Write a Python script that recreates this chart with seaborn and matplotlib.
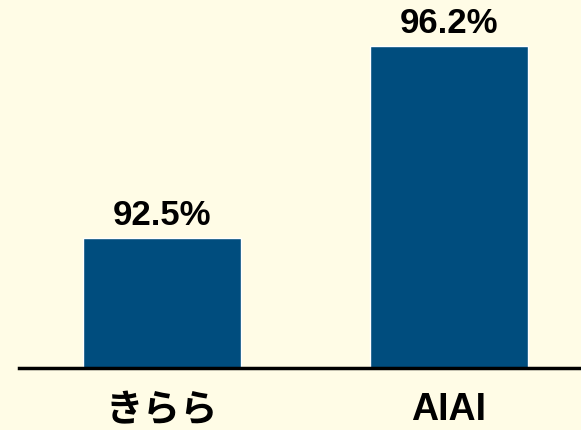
import matplotlib.pyplot as plt
import seaborn as sns
import pandas as pd

# datos
nombres = ["きらら", "AIAI"]
valores = [92.5, 96.2]
etiquetas = ["92.5%", "96.2%"]

fondo = "#FFFCE6"
azul = "#004D7E"

sns.set_style("white")
plt.rcParams["font.family"] = ["Liberation Sans", "Noto Sans CJK JP", "DejaVu Sans"]

df = pd.DataFrame({"nombre": nombres, "valor": valores})

fig = plt.figure(figsize=(5.81, 4.31), dpi=100, facecolor=fondo)
ax = fig.add_axes([19 / 581, 62.5 / 431, 562 / 581, 368.5 / 431])
ax.set_facecolor(fondo)

sns.barplot(data=df, x="nombre", y="valor", color=azul, width=0.55,
            saturation=1, ax=ax)

ax.set_ylim(90, 97.107)
ax.set_xlim(-0.5, -0.5 + 562 / 286.5)

ax.bar_label(ax.containers[0], labels=etiquetas, padding=5,
             fontsize=25, fontweight="bold", color="black")

for s in ["top", "right", "left"]:
    ax.spines[s].set_visible(False)
ax.spines["bottom"].set_linewidth(2.5)
ax.spines["bottom"].set_color("black")

ax.set_yticks([])
ax.tick_params(axis="x", length=0, pad=17, colors="black")
for t in ax.get_xticklabels():
    t.set_fontsize(27)
    t.set_fontweight("bold")
    t.set_color("black")
    t.set_fontfamily(["Liberation Sans", "Noto Sans CJK JP", "DejaVu Sans"])
ax.set_xlabel("")
ax.set_ylabel("")

fig.savefig("out.png", dpi=100, facecolor=fondo)
